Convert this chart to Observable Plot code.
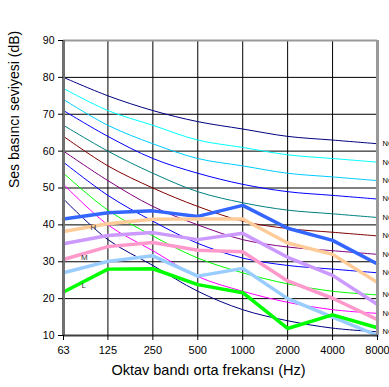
<!DOCTYPE html>
<html><head><meta charset="utf-8">
<script src="https://cdn.jsdelivr.net/npm/d3@7"></script>
<script src="https://cdn.jsdelivr.net/npm/@observablehq/plot@0.6"></script>
<style>
body{margin:0;background:#fff;font-family:Arial,"Liberation Sans",sans-serif}
#wrap{position:relative;width:389px;height:387px;overflow:hidden}
#title{position:absolute;left:78px;top:4px;font-size:16px;color:#000;font-family:Arial,"Liberation Sans",sans-serif}
#wrap svg{position:absolute;left:0;top:0}
</style>
</head><body><div id="wrap"><div id="title">TESA 2</div></div>
<script>
// Octave band centre frequencies (Hz)
const freqs = [63, 125, 250, 500, 1000, 2000, 4000, 8000];
const freqLabels = ["63", "125", "250", "500", "1000", "2000", "4000", "8000"];
const yTicks = [10, 20, 30, 40, 50, 60, 70, 80, 90];

// NC reference curves
const ncNames  = ["NC-15","NC-20","NC-25","NC-30","NC-35","NC-40","NC-45","NC-50","NC-55","NC-60","NC-65"];
const ncColors = ["#000080","#FF00FF","#00FF00","#0000FF","#800080","#800000","#008080","#0000FF","#00CCFF","#00FFFF","#000080"];
const nc15 = [47, 36, 29, 22, 17, 14, 12, 11];
const nc20 = [51, 40, 33, 26, 22, 19, 17, 16];
const nc25 = [54, 44, 37, 31, 27, 24, 22, 21];
const nc30 = [57, 48, 41, 35, 31, 29, 28, 27];
const nc35 = [60, 52, 45, 40, 36, 34, 33, 32];
const nc40 = [64, 56, 50, 45, 41, 39, 38, 37];
const nc45 = [67, 60, 54, 49, 46, 44, 43, 42];
const nc50 = [71, 64, 58, 54, 51, 49, 48, 47];
const nc55 = [74, 67, 62, 58, 56, 54, 53, 52];
const nc60 = [77, 71, 67, 63, 61, 59, 58, 57];
const nc65 = [80, 75, 71, 68, 66, 64, 63, 62];
const ncValues = [nc15, nc20, nc25, nc30, nc35, nc40, nc45, nc50, nc55, nc60, nc65];

// Measured spectra
const measNames  = ["Ölçüm 1", "H", "Ölçüm 3", "M", "Ölçüm 5", "L"];
const measColors = ["#3366FF", "#FFCC99", "#CC99FF", "#FF99CC", "#99CCFF", "#00FF00"];
const measWidths = [3.5, 3.5, 3.5, 3.5, 3.5, 3.5];
const meas1 = [41.6, 43.3, 43.8, 42.3, 45.3, 39.1, 35.8, 29.4];
const meas2 = [38.2, 40.3, 41.5, 41.6, 41.6, 35.1, 32.0, 24.4];
const meas3 = [34.9, 37.1, 37.9, 36.0, 37.7, 31.2, 26.3, 18.4];
const meas4 = [30.6, 34.1, 35.2, 33.1, 32.7, 24.8, 20.1, 14.3];
const meas5 = [27.0, 30.1, 31.6, 26.1, 28.2, 20.0, 15.0, 10.0];
const meas6 = [21.8, 28.0, 28.1, 23.8, 21.6, 11.9, 15.6, 12.1];
const measValues = [meas1, meas2, meas3, meas4, meas5, meas6];

// Small in-plot letters
const letterText = ["H", "M", "L"];
const letterFreq = [100, 87, 86];
const letterLevel = [39.4, 31.1, 23.7];

const ncData = ncNames.flatMap((n, i) => freqs.map((f, j) => ({name: n, f, v: ncValues[i][j], i})));
const ncEnds = ncNames.map((n, i) => ({name: n, f: 8000, v: ncValues[i][7]}));
const letters = letterText.map((t, i) => ({t, f: letterFreq[i], v: letterLevel[i]}));
const xTickData = freqs.map((f, i) => ({f, label: freqLabels[i]}));

const marks = [
  Plot.ruleX(freqs, {stroke: "#000", strokeWidth: 1}),
  Plot.ruleY(yTicks, {stroke: "#000", strokeWidth: 1}),
];
ncNames.forEach((n, i) => {
  marks.push(Plot.line(ncData.filter(d => d.i === i), {x: "f", y: "v", stroke: ncColors[i], strokeWidth: 1, curve: "catmull-rom"}));
});
measNames.forEach((n, i) => {
  const d = freqs.map((f, j) => ({f, v: measValues[i][j]}));
  marks.push(Plot.line(d, {x: "f", y: "v", stroke: measColors[i], strokeWidth: measWidths[i], strokeLinejoin: "miter"}));
});
marks.push(
  Plot.text(letters, {x: "f", y: "v", text: "t", fontSize: 8, fill: "#333"}),
  Plot.text(ncEnds, {x: "f", y: "v", text: "name", dx: 5, textAnchor: "start", fontSize: 7.5, fill: "#000"}),
  Plot.ruleY([90], {stroke: "#999", strokeWidth: 2}),
  Plot.ruleX([8000], {stroke: "#999", strokeWidth: 3}),
  Plot.ruleX([63], {stroke: "#707070", strokeWidth: 3}),
  Plot.ruleY([10], {stroke: "#404040", strokeWidth: 2}),
  Plot.axisY({ticks: yTicks, tickSize: 5, tickPadding: 4, fontSize: 10.5, label: null}),
  // x axis ticks and labels
  Plot.ruleX(freqs, {stroke: "#000", strokeWidth: 1, insetTop: 295, insetBottom: -5}),
  Plot.text(xTickData, {x: "f", text: "label", frameAnchor: "bottom", dy: 18, fontSize: 11, fill: "#000"}),
  Plot.text(["Ses basıncı seviyesi (dB)"], {frameAnchor: "left", dx: -49, rotate: -90, fontSize: 14, fill: "#000"}),
  Plot.text(["Oktav bandı orta frekansı (Hz)"], {frameAnchor: "bottom", dy: 39, dx: -12, fontSize: 14.5, fill: "#000"})
);

const chart = Plot.plot({
  width: 389,
  height: 387,
  marginLeft: 63,
  marginRight: 12,
  marginTop: 40,
  marginBottom: 52,
  style: {fontFamily: "Arial, 'Liberation Sans', sans-serif", background: "#fff", color: "#000", overflow: "hidden"},
  x: {type: "log", domain: [63, 8000], axis: null},
  y: {domain: [10, 90]},
  marks
});
document.getElementById("wrap").appendChild(chart);
</script>
</body></html>
